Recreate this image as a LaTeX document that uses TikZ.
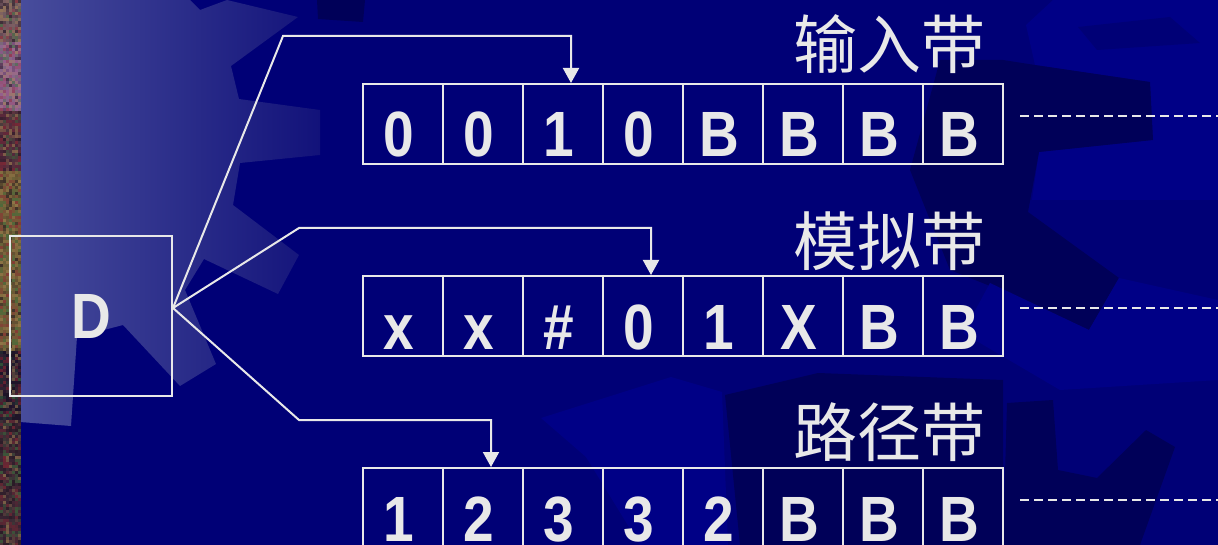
\documentclass[tikz,border=0pt]{standalone}
\usepackage{fontspec}
\setmainfont{Liberation Sans}
\newfontfamily\cellfont[FakeStretch=0.86]{Liberation Sans Bold}
\newfontfamily\cjk{Noto Sans CJK SC}
\usetikzlibrary{arrows.meta}
\definecolor{bgnavy}{RGB}{0,0,118}
\definecolor{navydark}{RGB}{0,0,88}
\definecolor{navylight}{RGB}{0,0,134}
\definecolor{ink}{RGB}{232,232,232}
\definecolor{gearL}{RGB}{72,77,156}
\definecolor{gearR}{RGB}{18,18,122}
\definecolor{band1}{RGB}{120,90,100}
\definecolor{band2}{RGB}{150,100,150}
\definecolor{band3}{RGB}{80,40,60}
\definecolor{band4}{RGB}{115,95,55}
\definecolor{band5}{RGB}{30,20,45}
\definecolor{band6}{RGB}{60,38,52}
\definecolor{noise1}{RGB}{140,40,50}
\definecolor{noise2}{RGB}{60,110,60}
\definecolor{noise3}{RGB}{30,20,30}
\definecolor{noise4}{RGB}{160,130,80}
\tikzset{
  cell/.style={draw=ink, line width=2pt, minimum width=80pt, minimum height=80pt,
    inner sep=0pt, text=ink, font=\cellfont\fontsize{64}{64}\selectfont,
    text height=66pt, text depth=0pt},
  dbox/.style={draw=ink, line width=2pt, minimum width=162pt, minimum height=160pt,
    inner sep=0pt, text=ink, font=\cellfont\fontsize{64}{64}\selectfont},
  conn/.style={draw=ink, line width=2pt, -{Triangle[width=16pt,length=15pt]}},
  dashline/.style={draw=ink, line width=2.2pt, dash pattern=on 9pt off 5pt},
  lbl/.style={text=ink, inner sep=0pt, anchor=east, font=\cjk\fontsize{64}{64}\selectfont},
}
\begin{document}
\begin{tikzpicture}[x=1pt,y=-1pt]
\useasboundingbox (0,0) rectangle (1218,545);
\fill[bgnavy] (0,0) rectangle (1218,545);
% background decoration
\fill[navydark] (317,0) -- (365,0) -- (363,22) -- (318,19) -- cycle;
\fill[navylight] (1026,25) -- (1053,0) -- (1218,0) -- (1218,200) -- (1032,200) -- (1039,152) -- (1153,140) -- (1150,82) -- (1035,65) -- cycle;
\fill[bgnavy] (1078,27) -- (1170,17) -- (1200,43) -- (1097,50) -- cycle;
\fill[navydark] (940,60) -- (1003,60) -- (1035,65) -- (1150,82) -- (1153,140) -- (1039,152) -- (1028,212) -- (1119,278) -- (1089,330) -- (1000,290) -- (950,270) -- (910,170) -- cycle;
\fill[navylight] (990,283) -- (1089,330) -- (1119,278) -- (1218,300) -- (1218,380) -- (1060,390) -- (963,333) -- cycle;
\fill[navylight] (541,418) -- (671,377) -- (722,392) -- (728,545) -- (640,545) -- (586,457) -- cycle;
\fill[navydark] (725,395) -- (818,373) -- (1003,380) -- (1003,545) -- (740,545) -- cycle;
\fill[navydark] (1007,403) -- (1053,400) -- (1058,470) -- (1097,478) -- (1146,430) -- (1175,447) -- (1140,545) -- (1003,545) -- cycle;
\shade[left color=gearL, right color=gearR] (20,0) -- (190,0) -- (200,10) -- (227,0) -- (298,17) -- (231,66) -- (239,99) -- (320,110) -- (320,155) -- (240,163) -- (233,205) -- (299,255) -- (278,294) -- (204,259) -- (185,290) -- (216,364) -- (180,386) -- (123,325) -- (77,337) -- (71,426) -- (20,422) -- cycle;
% noisy strip on the left edge
\pgfmathsetseed{7}
\foreach \jj in {0,...,181}{
  \pgfmathtruncatemacro\bandN{\jj<14 ? 1 : (\jj<37 ? 2 : (\jj<57 ? 3 : (\jj<117 ? 4 : (\jj<140 ? 5 : 6))))}
  \foreach \ii in {0,...,6}{
    \pgfmathrandominteger\noiseR{35}{95}
    \pgfmathrandominteger\noiseC{1}{4}
    \fill[band\bandN!\noiseR!noise\noiseC] (\ii*3,\jj*3) rectangle ++(3.2,3.2);
  }
}
% tapes
\foreach \t/\y/\cells in {1/124/{0,0,1,0,B,B,B,B}, 2/316/{x,x,\#,0,1,X,B,B}, 3/508/{1,2,3,3,2,B,B,B}}{
  \foreach \s [count=\k] in \cells{
    \node[cell] (t\t c\k) at ({323+80*\k},\y) {\s\hspace*{8pt}};
  }
}
% labels
\node[lbl] (lab1) at (986,44) {输入带};
\node[lbl] (lab2) at (986,241) {模拟带};
\node[lbl] (lab3) at (986,432) {路径带};
% D box
\node[dbox] (D) at (91,316) {D};
\coordinate (hub) at ([yshift=8pt]D.east);
% connectors
\draw[conn] (hub) -- (283,36) -| ([xshift=8pt]t1c3.north);
\draw[conn] (hub) -- (299,228) -| ([xshift=8pt]t2c4.north);
\draw[conn] (hub) -- (299,420) -| ([xshift=8pt]t3c2.north);
% dashed continuations
\coordinate (e1) at (1218,116);
\coordinate (e2) at (1218,308);
\coordinate (e3) at (1218,500);
\draw[dashline] ([shift={(16pt,8pt)}]t1c8.east) -- (e1);
\draw[dashline] ([shift={(16pt,8pt)}]t2c8.east) -- (e2);
\draw[dashline] ([shift={(16pt,8pt)}]t3c8.east) -- (e3);
\end{tikzpicture}
\end{document}
